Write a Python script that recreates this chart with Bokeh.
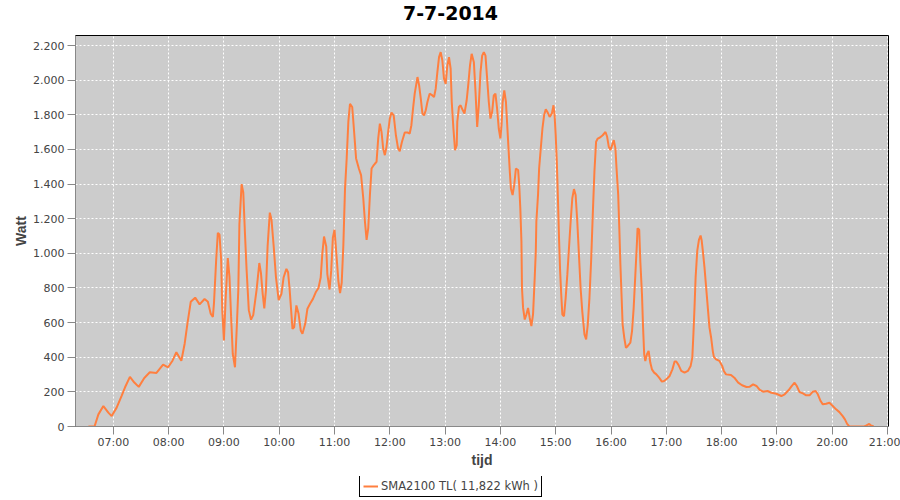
from bokeh.plotting import figure
from bokeh.models import Range1d, FixedTicker, Legend, LegendItem, Label
from bokeh.layouts import column
from bokeh.embed import file_html
from bokeh.resources import INLINE

title_text = "7-7-2014"
series_name = "SMA2100 TL( 11,822 kWh )"
x_label = "tijd"
y_label = "Watt"
line_color = "#ff7f3f"

x_ticks = [7, 8, 9, 10, 11, 12, 13, 14, 15, 16, 17, 18, 19, 20, 21]
x_tick_labels = ["07:00", "08:00", "09:00", "10:00", "11:00", "12:00", "13:00",
                 "14:00", "15:00", "16:00", "17:00", "18:00", "19:00", "20:00", "21:00"]
y_ticks = [0, 200, 400, 600, 800, 1000, 1200, 1400, 1600, 1800, 2000, 2200]
y_tick_labels = ["0", "200", "400", "600", "800", "1.000", "1.200", "1.400",
                 "1.600", "1.800", "2.000", "2.200"]

# time of day (decimal hours) and power (W)
hours = [6.55, 6.66, 6.73, 6.82, 6.91, 6.97, 7.06, 7.15, 7.21, 7.30, 7.38, 7.46, 7.56, 7.66,
         7.78, 7.90, 7.99, 8.07, 8.14, 8.23, 8.29, 8.34, 8.40, 8.48, 8.56, 8.65, 8.71, 8.76,
         8.80, 8.82, 8.86, 8.89, 8.92, 8.95, 8.97, 9.00, 9.03, 9.07, 9.10, 9.13, 9.16, 9.20,
         9.23, 9.26, 9.28, 9.32, 9.35, 9.38, 9.41, 9.45, 9.49, 9.53, 9.59, 9.64, 9.67, 9.70,
         9.73, 9.76, 9.79, 9.83, 9.86, 9.90, 9.94, 9.99, 10.04, 10.08, 10.13, 10.16, 10.19,
         10.22, 10.24, 10.27, 10.31, 10.35, 10.39, 10.42, 10.47, 10.51, 10.56, 10.61, 10.66,
         10.71, 10.75, 10.78, 10.81, 10.85, 10.87, 10.91, 10.94, 10.97, 11.00, 11.03, 11.07,
         11.10, 11.13, 11.16, 11.19, 11.22, 11.25, 11.28, 11.32, 11.35, 11.39, 11.44, 11.48,
         11.52, 11.55, 11.58, 11.61, 11.64, 11.67, 11.71, 11.76, 11.79, 11.82, 11.85, 11.88,
         11.91, 11.94, 11.97, 12.00, 12.03, 12.07, 12.11, 12.15, 12.18, 12.22, 12.27, 12.32,
         12.36, 12.39, 12.42, 12.45, 12.50, 12.53, 12.56, 12.59, 12.62, 12.65, 12.68, 12.72,
         12.77, 12.80, 12.83, 12.86, 12.89, 12.92, 12.95, 12.98, 13.01, 13.04, 13.07, 13.10,
         13.12, 13.15, 13.18, 13.21, 13.22, 13.25, 13.28, 13.32, 13.35, 13.39, 13.42, 13.45,
         13.48, 13.52, 13.55, 13.58, 13.61, 13.64, 13.67, 13.70, 13.73, 13.76, 13.79, 13.82,
         13.85, 13.88, 13.91, 13.94, 13.97, 14.00, 14.02, 14.04, 14.07, 14.10, 14.13, 14.15,
         14.17, 14.19, 14.22, 14.25, 14.28, 14.32, 14.34, 14.36, 14.38, 14.39, 14.41, 14.44,
         14.47, 14.50, 14.53, 14.56, 14.59, 14.62, 14.64, 14.65, 14.68, 14.70, 14.73, 14.76,
         14.79, 14.82, 14.85, 14.89, 14.93, 14.96, 14.98, 15.00, 15.02, 15.04, 15.06, 15.08,
         15.10, 15.12, 15.15, 15.18, 15.21, 15.24, 15.27, 15.30, 15.33, 15.36, 15.39, 15.42,
         15.45, 15.48, 15.52, 15.55, 15.58, 15.61, 15.64, 15.67, 15.70, 15.73, 15.76, 15.80,
         15.85, 15.90, 15.93, 15.96, 15.99, 16.02, 16.05, 16.08, 16.10, 16.13, 16.15, 16.17,
         16.19, 16.21, 16.24, 16.27, 16.30, 16.35, 16.38, 16.41, 16.44, 16.47, 16.48, 16.51,
         16.53, 16.56, 16.58, 16.60, 16.62, 16.65, 16.68, 16.71, 16.74, 16.78, 16.82, 16.87,
         16.92, 16.96, 17.00, 17.06, 17.11, 17.15, 17.18, 17.22, 17.27, 17.33, 17.39, 17.44,
         17.47, 17.49, 17.51, 17.53, 17.56, 17.59, 17.62, 17.64, 17.66, 17.69, 17.72, 17.75,
         17.78, 17.81, 17.84, 17.86, 17.90, 17.96, 18.01, 18.04, 18.08, 18.17, 18.23, 18.30,
         18.37, 18.45, 18.51, 18.57, 18.63, 18.69, 18.75, 18.83, 18.90, 18.99, 19.08, 19.14,
         19.21, 19.27, 19.32, 19.36, 19.41, 19.47, 19.53, 19.59, 19.65, 19.70, 19.74, 19.79,
         19.83, 19.89, 19.95, 20.01, 20.07, 20.13, 20.19, 20.23, 20.27, 20.31, 20.58, 20.62,
         20.67, 20.70, 20.75]
watt = [0, 0, 70, 118, 80, 60, 109, 177, 225, 287, 254, 229, 280, 313,
        309, 357, 342, 380, 429, 380, 478, 594, 720, 744, 705, 736, 720, 652,
        633, 711, 963, 1118, 1109, 963, 672, 497, 730, 973, 866, 633, 419, 342,
        555, 788, 1167, 1400, 1351, 1118, 905, 672, 617, 643, 788, 944, 886, 769,
        682, 788, 1041, 1235, 1196, 1041, 866, 730, 766, 862, 910, 891, 785,
        651, 564, 573, 699, 651, 554, 535, 593, 680, 710, 737, 775,
        800, 860, 1000, 1097, 1040, 880, 791, 900, 1090, 1136, 1011, 840,
        771, 830, 1049, 1375, 1548, 1759, 1864, 1845, 1721, 1548, 1490, 1452,
        1318, 1184, 1078, 1145, 1337, 1490, 1510, 1529, 1663, 1749, 1701, 1605,
        1567, 1615, 1701, 1778, 1813, 1797, 1682, 1605, 1590, 1644, 1698, 1698,
        1692, 1740, 1836, 1922, 2018, 1970, 1893, 1807, 1797, 1826, 1874, 1922,
        1912, 1903, 1951, 2047, 2133, 2162, 2114, 2008, 1979, 2085, 2133, 2066,
        1874, 1721, 1596, 1625, 1759, 1845, 1855, 1826, 1807, 1884, 1979, 2085,
        2152, 2104, 1932, 1730, 1860, 2047, 2142, 2162, 2142, 2008, 1874, 1778,
        1816, 1912, 1922, 1836, 1721, 1663, 1740, 1874, 1941, 1874, 1701, 1586,
        1471, 1375, 1337, 1395, 1490, 1481, 1395, 1260, 1069, 800, 685, 618,
        647, 685, 627, 580, 647, 858, 1011, 1184, 1337, 1490, 1606, 1721,
        1797, 1832, 1816, 1788, 1807, 1855, 1797, 1682, 1529, 1318, 1088, 896,
        762, 647, 637, 743, 877, 1030, 1184, 1318, 1371, 1337, 1184, 992,
        800, 666, 532, 503, 589, 743, 954, 1222, 1471, 1644, 1663, 1669,
        1682, 1701, 1673, 1615, 1596, 1625, 1654, 1605, 1490, 1337, 1145, 934,
        762, 589, 512, 455, 464, 484, 551, 685, 877, 1069, 1145, 1136,
        954, 762, 570, 417, 378, 417, 436, 369, 330, 311, 301, 282,
        259, 263, 273, 292, 330, 375, 375, 356, 321, 311, 321, 350,
        398, 533, 688, 862, 1016, 1078, 1103, 1074, 1016, 920, 804, 688,
        572, 514, 437, 402, 388, 379, 350, 321, 301, 298, 282, 253,
        238, 228, 230, 243, 234, 211, 201, 205, 195, 189, 176, 186,
        209, 234, 253, 234, 199, 191, 180, 180, 201, 205, 186, 147,
        128, 131, 137, 118, 99, 83, 60, 41, 15, 0, 0, 6,
        15, 6, 0]


def strip(height):
    f = figure(width=900, height=height, output_backend="svg", toolbar_location=None,
               x_axis_location=None, y_axis_location=None,
               x_range=Range1d(0, 1), y_range=Range1d(0, 1))
    f.min_border_left = 0
    f.min_border_right = 0
    f.min_border_top = 0
    f.min_border_bottom = 0
    f.outline_line_color = None
    f.background_fill_color = "white"
    f.border_fill_color = "white"
    f.grid.visible = False
    return f


# ---- title strip ----
pt = strip(35)
pt.add_layout(Label(x=375, y=23, x_units="screen", y_units="screen", text=title_text,
                    text_align="center", text_baseline="middle",
                    text_font="DejaVu Sans", text_font_style="bold",
                    text_font_size="19px", text_color="black"))

# ---- main chart ----
p = figure(frame_width=813, frame_height=391, output_backend="svg", toolbar_location=None,
           x_range=Range1d(6.316, 21.018), y_range=Range1d(0, 2258))
p.min_border_left = 75
p.min_border_right = 12
p.min_border_top = 0
p.min_border_bottom = 50

p.background_fill_color = "#cccccc"
p.border_fill_color = "white"
p.outline_line_color = "black"
p.outline_line_width = 1
p.outline_line_alpha = 1

p.line(hours, watt, line_color=line_color, line_width=2)

p.xaxis.ticker = FixedTicker(ticks=x_ticks)
p.xaxis.major_label_overrides = dict(zip(x_ticks, x_tick_labels))
p.yaxis.ticker = FixedTicker(ticks=y_ticks)
p.yaxis.major_label_overrides = dict(zip(y_ticks, y_tick_labels))

for ax in (p.xaxis, p.yaxis):
    ax.axis_line_color = "#888888"
    ax.major_tick_line_color = "#888888"
    ax.minor_tick_line_color = None
    ax.major_tick_in = 0
    ax.major_tick_out = 8
    ax.major_label_text_font = "DejaVu Sans"
    ax.major_label_text_font_size = "11px"
    ax.major_label_text_color = "#444444"
    ax.axis_label_text_font = "Liberation Sans"
    ax.axis_label_text_font_style = "bold"
    ax.axis_label_text_font_size = "14px"
    ax.axis_label_text_color = "#444444"

p.xaxis.axis_label = x_label
p.yaxis.axis_label = y_label
p.xaxis.major_label_standoff = 1
p.yaxis.major_label_standoff = 3
p.xaxis.axis_label_standoff = 0
p.yaxis.axis_label_standoff = 1

for g in (p.xgrid, p.ygrid):
    g.grid_line_color = "white"
    g.grid_line_dash = "2 2"
    g.grid_line_width = 1

# ---- legend strip under the chart ----
pl = strip(24)
# same series, lying outside this strip's ranges: only its legend entry shows
lr = pl.line(hours, watt, line_color=line_color, line_width=2)

legend = Legend(items=[LegendItem(label=series_name, renderers=[lr])],
                location=(284, 3), orientation="horizontal")
legend.margin = 0
legend.padding = 3
legend.glyph_width = 15
legend.glyph_height = 14
legend.label_height = 14
legend.label_standoff = 3
legend.label_text_font = "DejaVu Sans"
legend.label_text_font_size = "11.5px"
legend.label_text_color = "#444444"
legend.border_line_color = "black"
legend.border_line_width = 1
legend.border_line_alpha = 1
legend.background_fill_color = "white"
legend.background_fill_alpha = 1
pl.add_layout(legend)

layout = column(pt, p, pl, spacing=0)
open("out.html", "w").write(file_html(layout, INLINE))
